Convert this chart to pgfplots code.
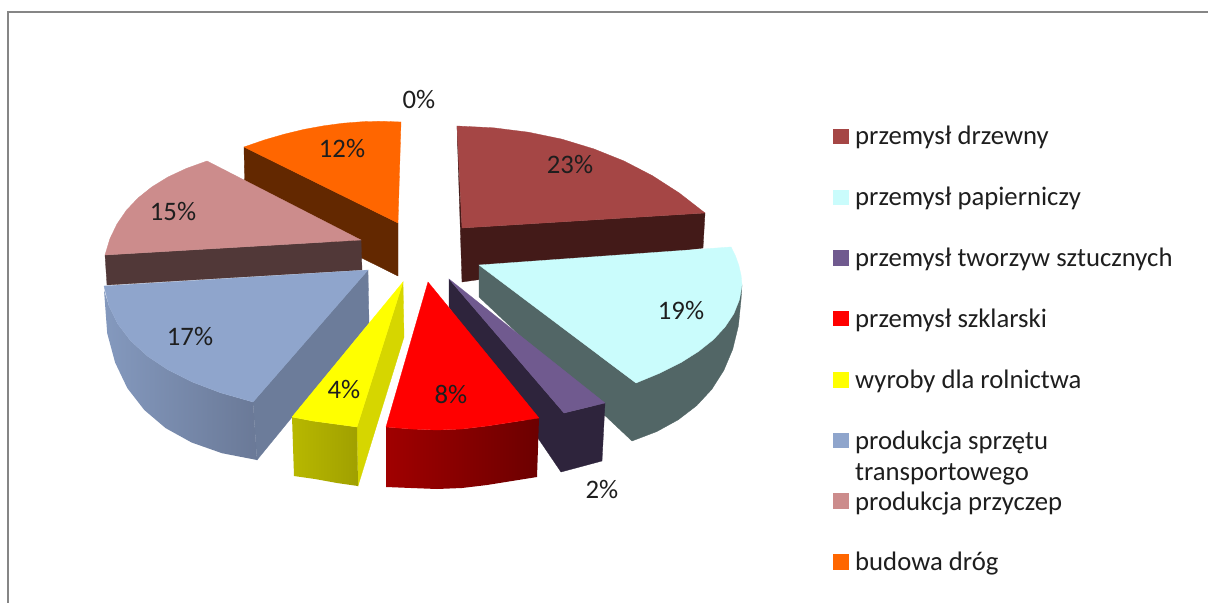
\documentclass[border=0pt]{standalone}
\usepackage{pgfplots}
\pgfplotsset{compat=1.18}
\usepackage{fontspec}
\setmainfont{Carlito}
\definecolor{orT}{HTML}{FF6600}\definecolor{orW}{HTML}{632800}
\definecolor{piT}{HTML}{CC8C8C}\definecolor{piW}{HTML}{513838}
\definecolor{blT}{HTML}{8FA5CC}\definecolor{blS}{HTML}{6C7C9A}
\definecolor{blA}{HTML}{8499BE}\definecolor{blB}{HTML}{6A7997}
\definecolor{yeT}{HTML}{FFFF00}\definecolor{yeS}{HTML}{D6D600}
\definecolor{yeA}{HTML}{B8B800}\definecolor{yeB}{HTML}{A0A000}
\definecolor{reT}{HTML}{FF0000}\definecolor{reA}{HTML}{A00000}\definecolor{reB}{HTML}{6C0000}
\definecolor{maT}{HTML}{A54645}\definecolor{maW}{HTML}{431A18}
\definecolor{cyT}{HTML}{CAFCFC}\definecolor{cyW}{HTML}{526666}
\definecolor{puT}{HTML}{705A8F}\definecolor{puW}{HTML}{2E243C}
\definecolor{frame}{HTML}{868686}\definecolor{txt}{HTML}{1E1E1E}
\pgfplotsset{
  face/.style={fill=#1,draw=#1,line width=0.3bp,forget plot},
  grad/.style n args={2}{left color=#1,right color=#2,draw=none,forget plot},
  sq/.style={only marks,color=#1,mark=square*,mark size=7.2bp,mark options={solid,fill=#1,draw=#1,line width=0pt},forget plot}
}
\newcommand{\lab}[3]{\node[anchor=base,font=\fontsize{26.8}{26.8}\selectfont,text=txt,inner sep=0pt] at (axis cs:#1,#2) {#3};}
\newcommand{\leg}[2]{\node[anchor=base west,font=\fontsize{26.8}{26.8}\selectfont,text=txt,inner sep=0pt] at (axis cs:855,#1) {#2};}
\begin{document}
\begin{tikzpicture}
\begin{axis}[hide axis,scale only axis,width=1208bp,height=603bp,xmin=0,xmax=1208,ymin=0,ymax=603,y dir=reverse,clip=true]
\addplot[fill=white,draw=none,forget plot] coordinates {(0,0)(1208,0)(1208,603)(0,603)} --cycle;
\addplot[draw=frame,line width=2.2bp,forget plot] coordinates {(8,603)(8,12)(1208,12)};
% orange
\addplot[face=orW] coordinates {(244,147)(398,223)(398,276)(245,200)} --cycle;
\addplot[face=orT] coordinates {(398,223)(401,122)(381.9,121.3)(362.7,121.7)(343.2,123.2)(323.8,125.8)(304,129.4)(284.2,134.2)(264.2,140)(244,147)} --cycle;
% pink
\addplot[face=piW] coordinates {(105,255)(361,240)(362,270)(107,285)} --cycle;
\addplot[face=piT] coordinates {(361,240)(207,161)(186.4,168.4)(168,177)(151.9,186.9)(138,198)(126.4,210.3)(117,224)(109.9,238.8)(105,255)} --cycle;
% blue
\addplot[face=blS] coordinates {(368,270)(369,323)(257,460)(253,402)} --cycle;
\addplot[grad={blA}{blB}] coordinates {(104,290)(108.9,305.8)(117.8,324)(130.6,340.7)(147.3,356)(167.8,369.7)(192.3,382)(220.7,392.8)(253,402)(257,460)(222,453.2)(191.6,442.5)(165.6,428.1)(144.3,410)(127.3,388.1)(115.1,362.5)(107.2,333.2)} --cycle;
\addplot[face=blT] coordinates {(368,270)(104,286)(108.9,305.8)(117.8,324)(130.6,340.7)(147.3,356)(167.8,369.7)(192.3,382)(220.7,392.8)(253,402)} --cycle;
% yellow
\addplot[face=yeS] coordinates {(403,282)(404,337)(358,486)(357,427)} --cycle;
\addplot[grad={yeA}{yeB}] coordinates {(292,417)(313,421)(335,424)(357,427)(358,486)(337,483)(315,479)(294,476)} --cycle;
\addplot[face=yeT] coordinates {(403,282)(292,417)(313,421)(335,424)(357,427)} --cycle;
% maroon
\addplot[face=maW] coordinates {(457,126)(462,228)(705,213)(703,248)(462,282)} --cycle;
\addplot[face=maT] coordinates {(462,228)(457,126)(493.5,127.8)(528.4,132.2)(561.7,139.1)(593.5,148.8)(623.8,160.9)(652.4,175.7)(679.4,193.1)(705,213)} --cycle;
% cyan
\addplot[face=cyW] coordinates {(479,265)(479,297)(632,441)(656.7,431.6)(678.2,419.8)(696.6,405.7)(711.8,389.3)(723.8,370.4)(732.7,349.3)(738.4,325.9)(741,300)(742,285)(636,383)} --cycle;
\addplot[face=cyT] coordinates {(479,265)(731,247)(735.5,256.1)(738.8,265.5)(741,275.1)(742,285)(739.4,299.7)(733.9,313.6)(725.1,326.9)(713.5,339.5)(698.6,351.4)(680.9,362.6)(659.9,373.1)(636,383)} --cycle;
% purple
\addplot[face=puW] coordinates {(449,279)(449,307)(561,472)(602,461)(605,403)(564,413)} --cycle;
\addplot[face=puT] coordinates {(449,279)(564,413)(605,403)} --cycle;
% red
\addplot[grad={reA}{reB}] coordinates {(386,427)(411,429)(437,430)(462,429)(487,426)(513,422)(539,418)(537,477)(512,481)(487,485)(462,488)(437,489)(411,488)(386,487)} --cycle;
\addplot[face=reT] coordinates {(428,282)(386,427)(411,429)(437,430)(462,429)(487,426)(513,422)(539,418)} --cycle;
% legend keys
\addplot[sq=maT] coordinates {(841,136.5)};
\addplot[sq=cyT] coordinates {(841,197.5)};
\addplot[sq=puT] coordinates {(841,258)};
\addplot[sq=reT] coordinates {(841,318.5)};
\addplot[sq=yeT] coordinates {(841,380)};
\addplot[sq=blT] coordinates {(841,440.5)};
\addplot[sq=piT] coordinates {(841,501)};
\addplot[sq=orT] coordinates {(841,562)};
% labels
\lab{570}{173}{23\%}
\lab{681}{319}{19\%}
\lab{602}{498}{2\%}
\lab{451}{403}{8\%}
\lab{344}{398}{4\%}
\lab{190}{345}{17\%}
\lab{173}{220}{15\%}
\lab{342}{157}{12\%}
\lab{419}{108}{0\%}
\leg{144}{przemysł drzewny}
\leg{205}{przemysł papierniczy}
\leg{266}{przemysł tworzyw sztucznych}
\leg{327}{przemysł szklarski}
\leg{388}{wyroby dla rolnictwa}
\leg{449}{produkcja sprzętu}
\leg{480}{transportowego}
\leg{510}{produkcja przyczep}
\leg{570}{budowa dróg}
\end{axis}
\end{tikzpicture}
\end{document}
